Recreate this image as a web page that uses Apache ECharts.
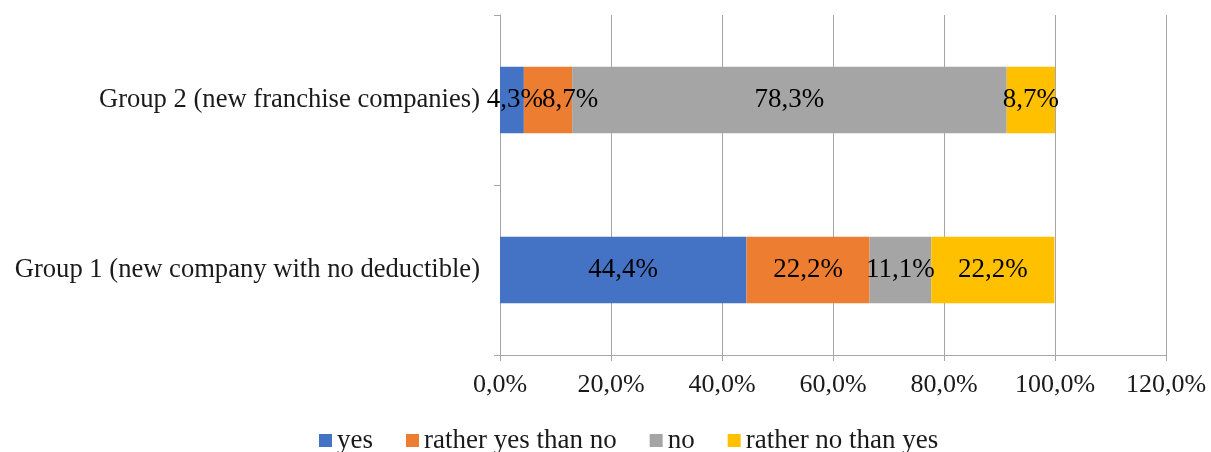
<!DOCTYPE html>
<html>
<head>
<meta charset="utf-8">
<script src="https://cdn.jsdelivr.net/npm/echarts@6/dist/echarts.min.js"></script>
<style>
  html, body { margin: 0; padding: 0; background: #fff; }
  #chart { width: 1211px; height: 452px; }
</style>
</head>
<body>
<div id="chart"></div>
<script>
// Survey answers per group, in percent
const categories = ['Group 1 (new company with no deductible)', 'Group 2 (new franchise companies)'];
const seriesNames = ['yes', 'rather yes than no', 'no', 'rather no than yes'];
const yes = [44.4, 4.3];
const ratherYes = [22.2, 8.7];
const no = [11.1, 78.3];
const ratherNo = [22.2, 8.7];
const xTicks = [0, 20, 40, 60, 80, 100, 120];

const colors = ['#4472c4', '#ed7d31', '#a5a5a5', '#ffc000'];
const FONT = '"Liberation Serif", "Times New Roman", serif';
const fmt = v => v.toFixed(1).replace('.', ',') + '%';

const values = [yes, ratherYes, no, ratherNo];

// narrow segments push their label sideways so neighbouring labels don't collide
function segmentData(arr, seriesIdx) {
  return arr.map((v, j) => {
    if (seriesIdx === 1 && j === 1) {
      return { value: v, label: { offset: [22, 0] } };
    }
    if (seriesIdx === 0 && j === 1) {
      return { value: v, label: { offset: [3, 0] } };
    }
    return v;
  });
}

const chart = echarts.init(document.getElementById('chart'));
chart.setOption({
  animation: false,
  color: colors,
  textStyle: { fontFamily: FONT },
  grid: { left: 500, right: 45, top: 15, bottom: 97, containLabel: false },
  legend: {
    top: 422,
    left: 314,
    itemWidth: 13,
    itemHeight: 13,
    itemGap: 33,
    icon: 'rect',
    textStyle: { fontFamily: FONT, fontSize: 27, color: '#1a1a1a' },
    data: seriesNames
  },
  xAxis: {
    type: 'value',
    min: xTicks[0],
    max: xTicks[xTicks.length - 1],
    interval: 20,
    axisLine: { show: true, lineStyle: { color: '#a6a6a6', width: 1 } },
    axisTick: { show: true, length: 6, lineStyle: { color: '#a6a6a6' } },
    splitLine: { show: true, lineStyle: { color: '#a6a6a6', width: 1 } },
    axisLabel: {
      fontFamily: FONT, fontSize: 26, color: '#1a1a1a', margin: 17,
      formatter: v => fmt(v)
    }
  },
  yAxis: {
    type: 'category',
    data: categories,
    axisLine: { show: true, lineStyle: { color: '#a6a6a6', width: 1 } },
    axisTick: { show: true, length: 6, lineStyle: { color: '#a6a6a6' } },
    axisLabel: { fontFamily: FONT, fontSize: 26.6, color: '#1a1a1a', margin: 20 }
  },
  series: seriesNames.map((name, i) => ({
    name,
    type: 'bar',
    stack: 'total',
    barWidth: '39%',
    data: segmentData(values[i], i),
    itemStyle: { color: colors[i] },
    label: {
      show: true,
      position: 'inside',
      fontFamily: FONT,
      fontSize: 27,
      color: '#000',
      formatter: p => fmt(p.value)
    }
  }))
});
</script>
</body>
</html>
